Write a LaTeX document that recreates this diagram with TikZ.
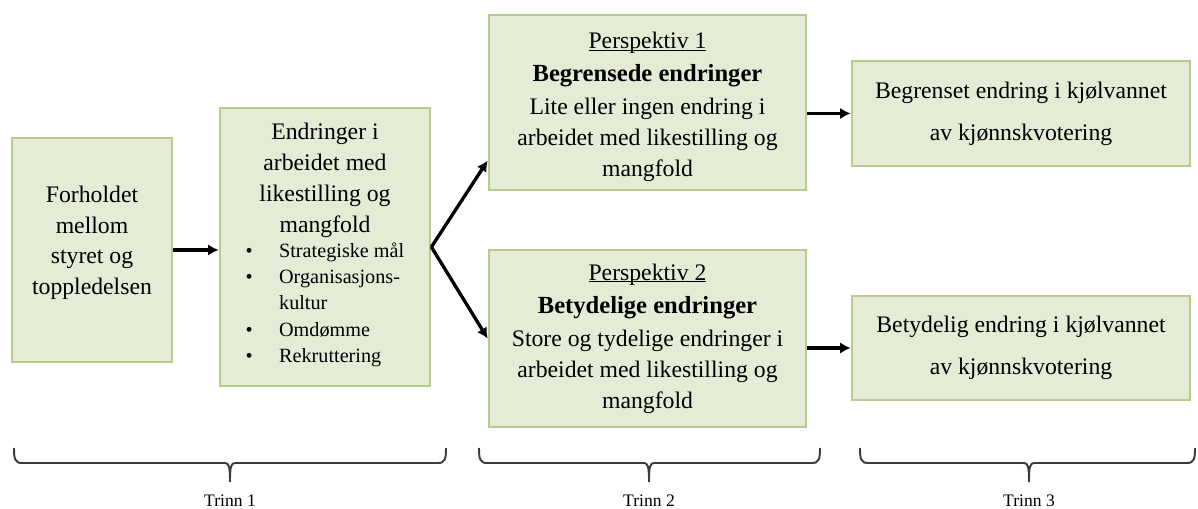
\documentclass[tikz,border=0pt]{standalone}
\usepackage{fontspec}
\setmainfont{Liberation Serif}
\usetikzlibrary{arrows.meta}
\definecolor{boxfill}{RGB}{228,236,214}
\definecolor{boxline}{RGB}{181,204,142}
\definecolor{bracegray}{RGB}{60,60,60}
\def\baseul#1{\setbox0\hbox{#1}\rlap{\rule[-1.4pt]{\wd0}{0.6pt}}\box0}
\tikzset{
	stagebox/.style={draw=boxline, fill=boxfill, line width=1.6pt, align=center, inner sep=0pt, font=\fontsize{13.5}{17.5}\selectfont},
	flow/.style={line width=1.9pt, -{Latex[length=6pt,width=6.5pt]}},
	bracket/.style={draw=bracegray, line width=1.1pt},
}

\begin{document}
\begin{tikzpicture}[x=0.02cm, y=-0.02cm]
		%%%%% START %%%%%
		\useasboundingbox (0, 0) rectangle (1198, 509);
		
		\node[stagebox, minimum width=3.2cm, minimum height=4.48cm] (rel) at (92, 250) {Forholdet\\mellom\\styret og\\toppledelsen\rule[-11pt]{0pt}{0pt}};
		
		\node[stagebox, minimum width=4.2cm, minimum height=5.56cm] (change) at (325, 247) {Endringer i\\arbeidet med\\likestilling og\\mangfold\\[0pt]
			{\fontsize{11.5}{15}\selectfont\begin{tabular}{@{}l@{\hspace{15pt}}l@{}}
				\textbullet & Strategiske mål\\
				\textbullet & Organisasjons-\\[-0.5pt]
				 & kultur\\[0.5pt]
				\textbullet & Omdømme\\
				\textbullet & Rekruttering
			\end{tabular}}};
		
		\node[stagebox, minimum width=6.34cm, minimum height=3.5cm] (p1) at (647.5, 102.5) {\rule{0pt}{14pt}\baseul{Perspektiv 1}\\[1.5pt]
			{\fontsize{14}{17.5}\selectfont\bfseries Begrensede endringer}\\[1.5pt]
			Lite eller ingen endring i\\arbeidet med likestilling og\\mangfold};
		\node[stagebox, minimum width=6.34cm, minimum height=3.54cm] (p2) at (647.5, 338.5) {\baseul{Perspektiv 2}\\[1.5pt]
			{\fontsize{14}{17.5}\selectfont\bfseries Betydelige endringer}\\[1.5pt]
			Store og tydelige endringer i\\arbeidet med likestilling og\\mangfold};
		
		\node[stagebox, font=\fontsize{13.5}{24}\selectfont, minimum width=6.76cm, minimum height=2.1cm] (r1) at (1021, 113.5) {Begrenset endring i kjølvannet\\av kjønnskvotering};
		\node[stagebox, font=\fontsize{13.5}{24}\selectfont, minimum width=6.76cm, minimum height=2.08cm] (r2) at (1021, 348) {Betydelig endring i kjølvannet\\av kjønnskvotering};
		
		\draw[flow] (rel.east) -- (rel.east -| change.west);
		\draw[flow] (change.east) -- (p1.200);
		\draw[flow] (change.east) -- (p2.west);
		\draw[flow] (r1.west -| p1.east) -- (r1.west);
		\draw[flow] (r2.west -| p2.east) -- (r2.west);
		
		\foreach \a/\b/\m/\n in {14/446/230/1, 479/820/649/2, 860/1195/1029/3}{
			\draw[bracket] (\a, 448) .. controls (\a, 459) and (\a+1, 463) .. (\a+8, 463) -- (\m-5, 463)
				.. controls (\m-1, 463) and (\m, 467) .. (\m, 482)
				.. controls (\m, 467) and (\m+1, 463) .. (\m+5, 463) -- (\b-8, 463)
				.. controls (\b-1, 463) and (\b, 459) .. (\b, 448);
			\node[font=\fontsize{10}{12}\selectfont, inner sep=0pt] (trinn\n) at (\m, 501) {Trinn \n};
		}
		%%%%% END %%%%%
\end{tikzpicture}
\end{document}
